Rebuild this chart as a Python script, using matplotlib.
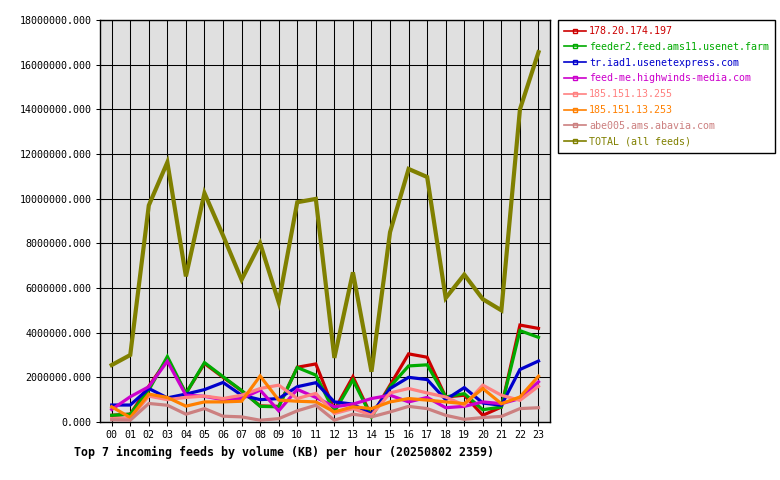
import matplotlib
matplotlib.use('Agg')
import matplotlib.pyplot as plt
from matplotlib.lines import Line2D
from matplotlib.ticker import MultipleLocator, FuncFormatter

hours = ['%02d' % h for h in range(24)]

# KB per hour
feed_178 = [0.30e6, 0.35e6, 1.60e6, 2.80e6, 1.28e6, 2.62e6, 2.00e6, 1.40e6, 0.72e6, 0.70e6, 2.45e6, 2.60e6,
            0.53e6, 2.03e6, 0.26e6, 1.65e6, 3.05e6, 2.90e6, 1.12e6, 1.20e6, 0.30e6, 0.67e6, 4.34e6, 4.19e6]
feed_feeder2 = [0.30e6, 0.35e6, 1.43e6, 2.93e6, 1.28e6, 2.66e6, 2.03e6, 1.41e6, 0.70e6, 0.68e6, 2.44e6, 2.10e6,
                0.45e6, 1.88e6, 0.23e6, 1.58e6, 2.51e6, 2.56e6, 1.12e6, 1.27e6, 0.55e6, 0.67e6, 4.09e6, 3.79e6]
feed_tr = [0.76e6, 0.76e6, 1.50e6, 1.08e6, 1.25e6, 1.45e6, 1.77e6, 1.20e6, 1.00e6, 1.05e6, 1.58e6, 1.76e6,
           0.90e6, 0.80e6, 0.35e6, 1.50e6, 2.00e6, 1.90e6, 1.00e6, 1.54e6, 0.85e6, 0.75e6, 2.35e6, 2.73e6]
feed_hw = [0.56e6, 1.13e6, 1.58e6, 2.72e6, 1.20e6, 1.15e6, 1.00e6, 1.05e6, 1.43e6, 0.50e6, 1.46e6, 1.10e6,
           0.68e6, 0.80e6, 1.05e6, 1.20e6, 0.90e6, 1.10e6, 0.64e6, 0.70e6, 0.90e6, 0.82e6, 1.05e6, 1.80e6]
feed_255 = [0.15e6, 0.15e6, 1.16e6, 1.00e6, 1.10e6, 1.16e6, 1.05e6, 1.20e6, 1.50e6, 1.65e6, 1.05e6, 1.28e6,
            0.38e6, 0.60e6, 0.30e6, 1.30e6, 1.50e6, 1.30e6, 1.12e6, 0.75e6, 1.65e6, 1.20e6, 0.97e6, 1.60e6]
feed_253 = [0.68e6, 0.20e6, 1.25e6, 1.10e6, 0.71e6, 0.90e6, 0.90e6, 0.93e6, 2.06e6, 0.98e6, 0.93e6, 0.90e6,
            0.45e6, 0.68e6, 0.60e6, 0.90e6, 1.05e6, 0.98e6, 0.90e6, 0.82e6, 1.50e6, 0.82e6, 1.12e6, 2.05e6]
feed_abe = [0.10e6, 0.08e6, 0.83e6, 0.75e6, 0.35e6, 0.60e6, 0.26e6, 0.23e6, 0.08e6, 0.15e6, 0.50e6, 0.75e6,
            0.08e6, 0.35e6, 0.23e6, 0.45e6, 0.70e6, 0.60e6, 0.30e6, 0.12e6, 0.20e6, 0.25e6, 0.60e6, 0.64e6]
total = [2.55e6, 3.00e6, 9.70e6, 11.63e6, 6.52e6, 10.25e6, 8.35e6, 6.37e6, 8.00e6, 5.36e6, 9.84e6, 9.99e6,
         2.87e6, 6.70e6, 2.25e6, 8.50e6, 11.33e6, 10.97e6, 5.55e6, 6.60e6, 5.50e6, 5.00e6, 14.00e6, 16.56e6]

names = ['178.20.174.197', 'feeder2.feed.ams11.usenet.farm', 'tr.iad1.usenetexpress.com',
         'feed-me.highwinds-media.com', '185.151.13.255', '185.151.13.253', 'abe005.ams.abavia.com',
         'TOTAL (all feeds)']
series = [feed_178, feed_feeder2, feed_tr, feed_hw, feed_255, feed_253, feed_abe, total]
colors = ['#cc0000', '#00aa00', '#0000cc', '#cc00cc', '#ff8080', '#ff8000', '#cc8080', '#808000']

plt.rcParams['font.family'] = 'DejaVu Sans Mono'

fig = plt.figure(figsize=(7.8, 4.8), dpi=100)
ax = fig.add_axes([100 / 780, 1 - 422 / 480, 450 / 780, 402 / 480])
ax.set_facecolor('#e0e0e0')

x = list(range(24))
for vals, c in zip(series, colors):
    lw = 3.0 if c == '#808000' else 2.3
    ax.plot(x, vals, color=c, lw=lw, solid_joinstyle='miter', zorder=3)

ax.set_xlim(-0.63, 23.62)
ax.set_ylim(0, 18e6)
ax.set_xticks(x)
ax.set_xticklabels(hours)
ax.yaxis.set_major_locator(MultipleLocator(2e6))
ax.yaxis.set_major_formatter(FuncFormatter(lambda v, p: '%.3f' % v))
ax.grid(True, color='black', lw=0.75, zorder=1)
ax.set_axisbelow(True)
ax.tick_params(direction='inout', length=6, width=0.75, labelsize=7.2, colors='black', pad=3)
for s in ax.spines.values():
    s.set_linewidth(1.0)
    s.set_color('black')

fig.text(74 / 780, 1 - 452 / 480, 'Top 7 incoming feeds by volume (KB) per hour (20250802 2359)',
         fontsize=8.4, fontweight='bold', va='center', ha='left')

handles = [Line2D([0], [0], color=c, lw=1.2, marker='s', markersize=3,
                  markerfacecolor='none', markeredgecolor=c) for c in colors]
leg = fig.legend(handles, names, loc='upper left', bbox_to_anchor=(558 / 780, 1 - 20 / 480),
                 fontsize=7.2, fancybox=False, edgecolor='black', framealpha=1,
                 handlelength=2.2, handletextpad=0.3, labelspacing=0.58, borderpad=0.6,
                 borderaxespad=0)
leg.get_frame().set_linewidth(1.0)
for t, c in zip(leg.get_texts(), colors):
    t.set_color(c)

fig.savefig('out.png', dpi=100)
